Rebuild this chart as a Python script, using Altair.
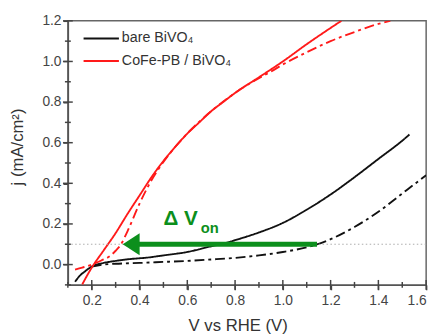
import altair as alt
import pandas as pd

# ---- data ----
v_bare_light = [0.13, 0.15, 0.17, 0.20, 0.25, 0.30, 0.36, 0.43, 0.50, 0.60, 0.70, 0.76, 0.80, 0.90, 1.00, 1.10, 1.20, 1.30, 1.40, 1.50, 1.53]
j_bare_light = [-0.085, -0.055, -0.035, -0.010, 0.008, 0.018, 0.027, 0.034, 0.045, 0.062, 0.090, 0.106, 0.120, 0.158, 0.205, 0.270, 0.345, 0.430, 0.520, 0.610, 0.640]

v_bare_dark = [0.20, 0.25, 0.30, 0.40, 0.50, 0.60, 0.70, 0.80, 0.90, 1.00, 1.10, 1.15, 1.20, 1.30, 1.40, 1.50, 1.60]
j_bare_dark = [-0.010, 0.000, 0.004, 0.008, 0.013, 0.018, 0.025, 0.033, 0.045, 0.062, 0.085, 0.102, 0.125, 0.185, 0.260, 0.350, 0.440]

v_cofe_light = [0.16, 0.18, 0.20, 0.25, 0.30, 0.35, 0.40, 0.45, 0.50, 0.55, 0.60, 0.65, 0.70, 0.75, 0.80, 0.90, 1.00, 1.10, 1.20, 1.245]
j_cofe_light = [-0.098, -0.055, -0.015, 0.070, 0.155, 0.250, 0.340, 0.430, 0.510, 0.580, 0.645, 0.700, 0.755, 0.800, 0.845, 0.922, 1.000, 1.085, 1.165, 1.200]

v_cofe_dark = [0.13, 0.16, 0.20, 0.24, 0.28, 0.30, 0.32, 0.35, 0.40, 0.45, 0.50, 0.60, 0.70, 0.80, 0.90, 0.95, 1.00, 1.10, 1.20, 1.30, 1.40, 1.45]
j_cofe_dark = [-0.025, -0.015, 0.000, 0.020, 0.045, 0.068, 0.095, 0.165, 0.300, 0.415, 0.505, 0.645, 0.755, 0.845, 0.918, 0.950, 0.985, 1.045, 1.100, 1.145, 1.185, 1.200]

samples = ["bare BiVO\u2084", "CoFe-PB / BiVO\u2084"]
sample_colors = ["#111111", "#ff1a1a"]
conditions = ["light", "dark"]

x_major = [0.2, 0.4, 0.6, 0.8, 1.0, 1.2, 1.4, 1.6]
x_minor = [0.1, 0.3, 0.5, 0.7, 0.9, 1.1, 1.3, 1.5]
y_major = [0.0, 0.2, 0.4, 0.6, 0.8, 1.0, 1.2]
y_minor = [-0.1, 0.1, 0.3, 0.5, 0.7, 0.9, 1.1]

onset_level = 0.1
arrow_tail = 1.143
arrow_head_center = 0.365
delta_label = "\u0394 V"
delta_sub = "on"
delta_pos = (0.500, 0.193)
delta_sub_pos = (0.656, 0.154)

# ---- build tables ----
rows = []
for s, c, vs, js in [
    (samples[0], "light", v_bare_light, j_bare_light),
    (samples[0], "dark", v_bare_dark, j_bare_dark),
    (samples[1], "light", v_cofe_light, j_cofe_light),
    (samples[1], "dark", v_cofe_dark, j_cofe_dark),
]:
    for i, (v, j) in enumerate(zip(vs, js)):
        rows.append({"v": v, "j": j, "sample": s, "cond": c, "series": s + c, "i": i})
df = pd.DataFrame(rows)

W, H = 365, 269
XMIN, XMAX, YMIN, YMAX = 0.1, 1.6, -0.1, 1.2
font = "Liberation Sans"
axis_gray = "#444444"
green = "#0c8f1c"

xscale = alt.Scale(domain=[XMIN, XMAX], nice=False, zero=False)
yscale = alt.Scale(domain=[YMIN, YMAX], nice=False, zero=False)
x_axis = alt.Axis(values=x_major, format=".1f", ticks=True, tickSize=5, tickWidth=1.5, tickColor=axis_gray,
                  grid=False, title="V vs RHE (V)",
                  labelPadding=4, titleX=173, titleY=47, titleBaseline="alphabetic")
y_axis = alt.Axis(values=y_major, format=".1f", ticks=True, tickSize=5, tickWidth=1.5, tickColor=axis_gray,
                  grid=False, title="j (mA/cm\u00b2)",
                  labelPadding=2, titleX=-42, titleY=128)


def X(f="v"):
    return alt.X(f + ":Q", scale=xscale, axis=x_axis)


def Y(f="j"):
    return alt.Y(f + ":Q", scale=yscale, axis=y_axis)


lines = alt.Chart(df).mark_line(strokeWidth=1.9, clip=True, interpolate="monotone").encode(
    x=X(), y=Y(),
    color=alt.Color("sample:N", scale=alt.Scale(domain=samples, range=sample_colors), legend=None),
    strokeDash=alt.StrokeDash("cond:N", scale=alt.Scale(domain=conditions, range=[[1, 0], [10, 4, 3, 4]]), legend=None),
    detail="series:N",
    order="i:Q",
)

dotted = alt.Chart(pd.DataFrame({"j": [onset_level]})).mark_rule(
    color="#aaaaaa", strokeWidth=1, strokeDash=[1.5, 2.5]).encode(y=Y())

arrow_df = pd.DataFrame({"v": [arrow_head_center], "v2": [arrow_tail], "j": [onset_level]})
shaft = alt.Chart(arrow_df).mark_rule(color=green, strokeWidth=5).encode(x=X(), x2="v2:Q", y=Y())
head = alt.Chart(arrow_df).mark_point(
    shape="M-0.77,0L0.77,-1L0.77,1Z", size=500, filled=True, opacity=1, color=green, strokeWidth=0
).encode(x=X(), y=Y())

lab = alt.Chart(pd.DataFrame({"v": [delta_pos[0]], "j": [delta_pos[1]], "t": [delta_label]})).mark_text(
    align="left", baseline="alphabetic", font=font, fontSize=21, fontWeight="bold", color=green
).encode(x=X(), y=Y(), text="t:N")
sub = alt.Chart(pd.DataFrame({"v": [delta_sub_pos[0]], "j": [delta_sub_pos[1]], "t": [delta_sub]})).mark_text(
    align="left", baseline="alphabetic", font=font, fontSize=15, fontWeight="bold", color=green
).encode(x=X(), y=Y(), text="t:N")

# crossing ticks: short rules centred on the axis lines
px_x = (XMAX - XMIN) / W
px_y = (YMAX - YMIN) / H
tick_layers = []
for vals, half in [(x_major, 5), (x_minor, 3)]:
    tdf = pd.DataFrame({"v": vals, "j": [YMIN - half * px_y] * len(vals), "j2": [YMIN + half * px_y] * len(vals)})
    tick_layers.append(alt.Chart(tdf).mark_rule(strokeWidth=1.5, color=axis_gray).encode(
        x=X(), y=Y(), y2="j2:Q"))
for vals, half in [(y_major, 5), (y_minor, 3)]:
    tdf = pd.DataFrame({"j": vals, "v": [XMIN - half * px_x] * len(vals), "v2": [XMIN + half * px_x] * len(vals)})
    tick_layers.append(alt.Chart(tdf).mark_rule(strokeWidth=1.5, color=axis_gray).encode(
        y=Y(), x=X(), x2="v2:Q"))

# legend (manual)
legend_layers = []
for k, (s, col) in enumerate(zip(samples, sample_colors)):
    ly = 18 + 23 * k
    ldf = pd.DataFrame({"sample": [s]})
    legend_layers.append(alt.Chart(ldf).mark_rule(strokeWidth=2, color=col).encode(
        x=alt.value(16), x2=alt.value(52), y=alt.value(ly)))
    legend_layers.append(alt.Chart(ldf).mark_text(
        align="left", baseline="middle", font=font, fontSize=14.5, color="#333333").encode(
        x=alt.value(55), y=alt.value(ly), text="sample:N"))

chart = alt.layer(lines, dotted, shaft, head, lab, sub, *tick_layers, *legend_layers).properties(
    width=W, height=H,
    autosize=alt.AutoSizeParams(type="none"),
    padding={"left": 61, "top": 10, "right": 8, "bottom": 48},
).configure_view(stroke="#666666", strokeWidth=1.5).configure_axis(
    domainColor="#555555", domainWidth=1.5, labelColor="#444444", labelFont=font, labelFontSize=14,
    titleFont=font, titleFontSize=17, titleColor="#333333", titleFontWeight="normal",
)

chart.save("out.html", embed_options={"renderer": "svg", "actions": False})
